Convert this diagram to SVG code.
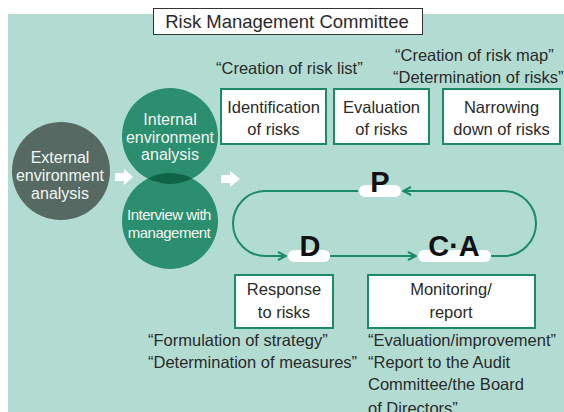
<svg xmlns="http://www.w3.org/2000/svg" width="564" height="412" viewBox="0 0 564 412">
<defs>
<style>
.t{font-family:"Liberation Sans",Arial,sans-serif;font-size:16.5px;fill:#2a2a2a;}
.c{text-anchor:middle;}
.w{fill:#f2f7f5;}
.box{fill:#fff;stroke:#1b8a67;stroke-width:2;}
.lp{fill:none;stroke:#1b8a67;stroke-width:2;}
.pill{fill:#fff;}
.big{font-family:"Liberation Sans",Arial,sans-serif;font-weight:bold;font-size:29px;fill:#111;text-anchor:middle;}
.arr{fill:#fff;}
</style>
<marker id="ah" viewBox="0 0 10 10" refX="9" refY="5" markerWidth="10" markerHeight="10" markerUnits="userSpaceOnUse" orient="auto">
<path d="M1,1 L9,5 L1,9" fill="none" stroke="#1b8a67" stroke-width="2"/>
</marker>
<clipPath id="clipInt"><circle cx="170" cy="136" r="48"/></clipPath>
</defs>
<rect x="8" y="14" width="556" height="398" fill="#b2dcd2"/>
<g id="title">
<rect x="153.5" y="8.5" width="269" height="26" fill="#fff" stroke="#333" stroke-width="1"/>
<text class="t c" x="287" y="28" style="font-size:18.5px">Risk Management Committee</text>
</g>
<g id="external">
<circle cx="61" cy="171" r="49" fill="#566a63"/>
<text class="t c w" x="60" y="163" style="font-size:16px">External</text>
<text class="t c w" x="60" y="181" style="font-size:16px">environment</text>
<text class="t c w" x="60" y="199" style="font-size:16px">analysis</text>
</g>
<g id="internal">
<circle cx="170" cy="136" r="48" fill="#2b8e6e"/>
</g>
<g id="interview">
<circle cx="170" cy="221" r="48" fill="#2b8e6e"/>
<circle cx="170" cy="221" r="48" fill="#0f6347" clip-path="url(#clipInt)"/>
<text class="t c w" x="169" y="220" style="font-size:15px;letter-spacing:-0.5px">Interview with</text>
<text class="t c w" x="169" y="238" style="font-size:15px;letter-spacing:-0.5px">management</text>
</g>
<g id="internal-text">
<text class="t c w" x="170" y="125" style="font-size:16px">Internal</text>
<text class="t c w" x="170" y="143" style="font-size:16px">environment</text>
<text class="t c w" x="170" y="160" style="font-size:16px">analysis</text>
</g>
<g id="connectors">
<path class="arr" d="M115,173 L124,173 L124,169 L133,177 L124,185 L124,181 L115,181 Z"/>
<path class="arr" d="M221,175 L230,175 L230,171 L240,179 L230,187 L230,183 L221,183 Z"/>
<path class="lp" d="M358,191 L265.5,191 A32.5,32.5 0 0 0 265.5,256 L286,256" marker-end="url(#ah)"/>
<path class="lp" d="M330,256 L416,256" marker-end="url(#ah)"/>
<path class="lp" d="M491,256 L503.5,256 A32.5,32.5 0 0 0 503.5,191 L403,191" marker-end="url(#ah)"/>
</g>
<g id="P">
<rect class="pill" x="359" y="185" width="42" height="12" rx="6"/>
<text class="big" x="380" y="192">P</text>
</g>
<g id="D">
<rect class="pill" x="288" y="250" width="42" height="12" rx="6"/>
<text class="big" x="310" y="256">D</text>
</g>
<g id="CA">
<rect class="pill" x="418" y="250" width="73" height="12" rx="6"/>
<text class="big" x="454" y="256">C·A</text>
</g>
<g id="labels-top">
<text class="t" x="216" y="74">“Creation of risk list”</text>
<text class="t" x="395" y="61">“Creation of risk map”</text>
<text class="t" x="393" y="83">“Determination of risks”</text>
</g>
<g id="identification">
<rect class="box" x="221" y="89" width="105" height="55"/>
<text class="t c" x="273.5" y="113">Identification</text>
<text class="t c" x="273.5" y="135">of risks</text>
</g>
<g id="evaluation">
<rect class="box" x="334" y="89" width="95" height="55"/>
<text class="t c" x="381.5" y="113">Evaluation</text>
<text class="t c" x="381.5" y="135">of risks</text>
</g>
<g id="narrowing">
<rect class="box" x="443" y="89" width="117" height="55"/>
<text class="t c" x="501.5" y="113">Narrowing</text>
<text class="t c" x="501.5" y="135">down of risks</text>
</g>
<g id="response">
<rect class="box" x="235" y="275" width="98" height="53"/>
<text class="t c" x="284" y="295">Response</text>
<text class="t c" x="284" y="318">to risks</text>
</g>
<g id="monitoring">
<rect class="box" x="368" y="275" width="167" height="53"/>
<text class="t c" x="451" y="295">Monitoring/</text>
<text class="t c" x="451" y="318">report</text>
</g>
<g id="labels-bottom">
<text class="t" x="148" y="346">“Formulation of strategy”</text>
<text class="t" x="148" y="368">“Determination of measures”</text>
<text class="t" x="368" y="346">“Evaluation/improvement”</text>
<text class="t" x="368" y="368">“Report to the Audit</text>
<text class="t" x="368" y="390">Committee/the Board</text>
<text class="t" x="368" y="414">of Directors”</text>
</g>
</svg>
